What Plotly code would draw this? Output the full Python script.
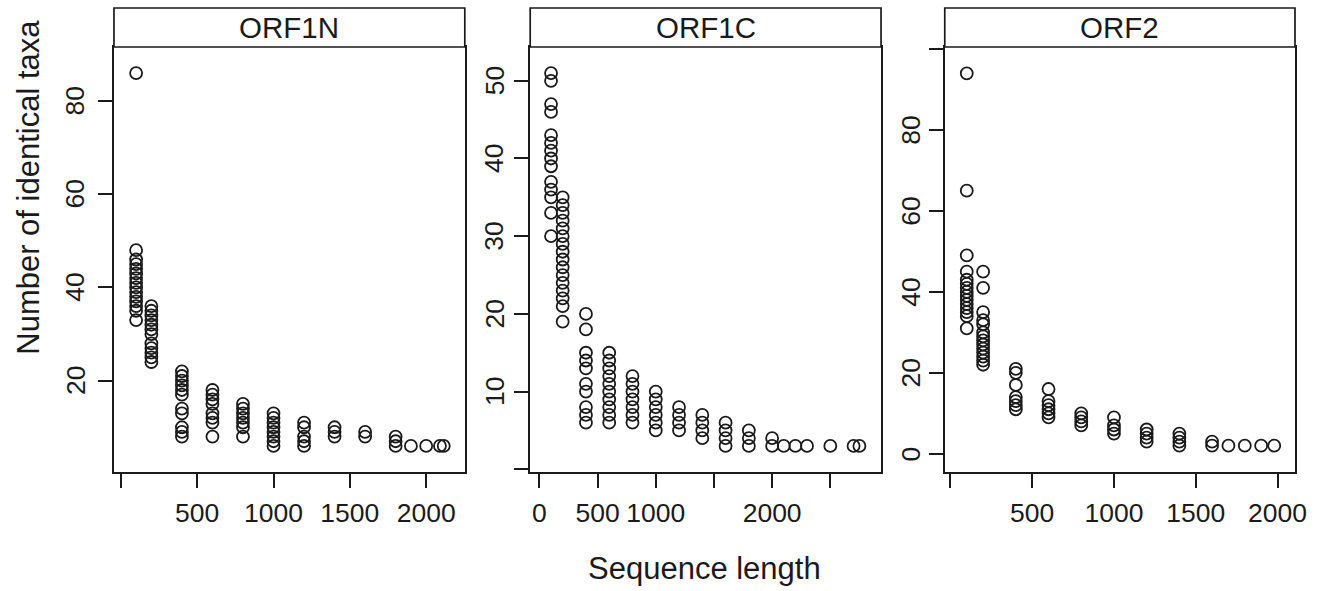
import plotly.graph_objects as go

# ---------------- data ----------------
panel_names = ["ORF1N", "ORF1C", "ORF2"]

orf1n_lengths = [100, 200, 400, 600, 800, 1000, 1200, 1400, 1600, 1800, 1900, 2000, 2090, 2115]
orf1n_taxa = [
    [86, 48, 46, 45, 44, 43, 42, 41, 40, 39, 38, 37, 36, 35, 33],
    [36, 35, 34, 33, 32, 31, 30, 28, 27, 26, 25, 24],
    [22, 21, 20, 19, 18, 17, 14, 13, 10, 9, 8],
    [18, 17, 16, 15, 13, 12, 11, 8],
    [15, 14, 13, 12, 11, 10, 8],
    [13, 12, 11, 10, 9, 8, 7, 6],
    [11, 10, 8, 7, 6],
    [10, 9, 8],
    [9, 8],
    [8, 7, 6],
    [6], [6], [6], [6],
]

orf1c_lengths = [100, 200, 400, 600, 800, 1000, 1200, 1400, 1600, 1800, 2000, 2100, 2200, 2300, 2500, 2700, 2750]
orf1c_taxa = [
    [51, 50, 47, 46, 43, 42, 41, 40, 39, 37, 36, 35, 33, 30],
    [35, 34, 33, 32, 31, 30, 29, 28, 27, 26, 25, 24, 23, 22, 21, 19],
    [20, 18, 15, 14, 13, 11, 10, 8, 7, 6],
    [15, 14, 13, 12, 11, 10, 9, 8, 7, 6],
    [12, 11, 10, 9, 8, 7, 6],
    [10, 9, 8, 7, 6, 5],
    [8, 7, 6, 5],
    [7, 6, 5, 4],
    [6, 5, 4, 3],
    [5, 4, 3],
    [4, 3],
    [3], [3], [3], [3], [3], [3],
]

orf2_lengths = [100, 200, 400, 600, 800, 1000, 1200, 1400, 1600, 1700, 1800, 1900, 1980]
orf2_taxa = [
    [94, 65, 49, 45, 43, 42, 41, 40, 39, 38, 37, 36, 35, 34, 31],
    [45, 41, 35, 33, 32, 30, 29, 28, 27, 26, 25, 24, 23, 22],
    [21, 20, 17, 14, 13, 12, 11],
    [16, 13, 12, 11, 10, 9],
    [10, 9, 8, 7],
    [9, 7, 6, 5],
    [6, 5, 4, 3],
    [5, 4, 3, 2],
    [3, 2],
    [2], [2], [2], [2],
]

x_tickvals = [[0, 500, 1000, 1500, 2000],
              [0, 500, 1000, 1500, 2000, 2500],
              [0, 500, 1000, 1500, 2000]]
x_ticktext = [["", "500", "1000", "1500", "2000"],
              ["0", "500", "1000", "", "2000", ""],
              ["", "500", "1000", "1500", "2000"]]
y_tickvals = [[20, 40, 60, 80],
              [0, 10, 20, 30, 40, 50],
              [0, 20, 40, 60, 80, 100]]
y_ticktext = [["20", "40", "60", "80"],
              ["", "10", "20", "30", "40", "50"],
              ["0", "20", "40", "60", "80", ""]]

x_title = "Sequence length"
y_title = "Number of identical taxa"

# ---------------- layout geometry ----------------
W, H = 1340, 591
panel_px = [(115, 469), (535, 889), (953.3, 1306.7)]
ylabel_center_px = [76, 499, 919]
top_px, bottom_px, strip_top_px = 47, 472, 8
x_ranges = [[-45, 2253], [-79, 2936], [-34.5, 2107]]
y_ranges = [[0.4, 91.6], [-0.35, 54.35], [-4.5, 100.5]]

FONT = "Liberation Sans, Arial, Helvetica, sans-serif"
INK = "#1a1a1a"
TICK_SIZE = 26.5

fig = go.Figure()
datasets = [(orf1n_lengths, orf1n_taxa), (orf1c_lengths, orf1c_taxa), (orf2_lengths, orf2_taxa)]
for i, (lens, taxa) in enumerate(datasets):
    xs, ys = [], []
    for L, vals in zip(lens, taxa):
        for v in vals:
            xs.append(L)
            ys.append(v)
    sfx = "" if i == 0 else str(i + 1)
    fig.add_trace(go.Scatter(
        x=xs, y=ys, mode="markers", xaxis="x" + sfx, yaxis="y" + sfx,
        marker=dict(symbol="circle-open", size=12, color=INK, line=dict(width=1.8, color=INK)),
        showlegend=False, hoverinfo="x+y"))

layout = dict(
    width=W, height=H, margin=dict(l=0, r=0, t=0, b=0),
    paper_bgcolor="white", plot_bgcolor="white",
    font=dict(family=FONT, color=INK),
    showlegend=False,
)
ydom = [1 - bottom_px / H, 1 - top_px / H]
shapes, annotations = [], []
for i in range(3):
    sfx = "" if i == 0 else str(i + 1)
    x0, x1 = panel_px[i][0] / W, panel_px[i][1] / W
    layout["xaxis" + sfx] = dict(
        domain=[x0, x1], range=x_ranges[i], anchor="y" + sfx,
        tickmode="array", tickvals=x_tickvals[i], ticktext=x_ticktext[i],
        ticks="outside", ticklen=14, tickwidth=1.7, tickcolor=INK,
        showline=True, linecolor=INK, linewidth=1.7, mirror=True,
        showgrid=False, zeroline=False, ticklabelstandoff=2,
        tickfont=dict(size=TICK_SIZE, family=FONT, color=INK),
    )
    layout["yaxis" + sfx] = dict(
        domain=ydom, range=y_ranges[i], anchor="x" + sfx,
        tickmode="array", tickvals=y_tickvals[i], ticktext=y_ticktext[i],
        ticks="outside", ticklen=14, tickwidth=1.7, tickcolor=INK,
        showline=True, linecolor=INK, linewidth=1.7, mirror=True,
        showgrid=False, zeroline=False, showticklabels=False,
    )
    # rotated y tick labels (lattice style), placed as text beside the ticks
    for val, txt in zip(y_tickvals[i], y_ticktext[i]):
        if not txt:
            continue
        annotations.append(dict(text=txt, xref="paper", yref="y" + sfx,
                                x=ylabel_center_px[i] / W, y=val,
                                xanchor="center", yanchor="middle", showarrow=False,
                                textangle=-90,
                                font=dict(size=TICK_SIZE, family=FONT, color=INK)))
    shapes.append(dict(type="rect", xref="paper", yref="paper",
                       x0=x0, x1=x1, y0=1 - top_px / H, y1=1 - strip_top_px / H,
                       line=dict(color=INK, width=1.7), fillcolor="white"))
    annotations.append(dict(text=panel_names[i], xref="paper", yref="paper",
                            x=(x0 + x1) / 2, y=1 - (top_px + strip_top_px) / 2 / H,
                            xanchor="center", yanchor="middle", showarrow=False,
                            font=dict(size=29.5, family=FONT, color=INK)))

annotations.append(dict(text=x_title, xref="paper", yref="paper", x=711 / W, y=1 - 568 / H,
                        xanchor="center", yanchor="middle", showarrow=False,
                        font=dict(size=31, family=FONT, color=INK)))
annotations.append(dict(text=y_title, xref="paper", yref="paper", x=28 / W, y=1 - 187 / H,
                        xanchor="center", yanchor="middle", showarrow=False, textangle=-90,
                        font=dict(size=31, family=FONT, color=INK)))
layout["shapes"] = shapes
layout["annotations"] = annotations
fig.update_layout(**layout)
fig.write_html("out.html", config={"displayModeBar": False},
               post_script="document.body.style.margin='0';document.body.style.padding='0';document.body.style.overflow='hidden';")
